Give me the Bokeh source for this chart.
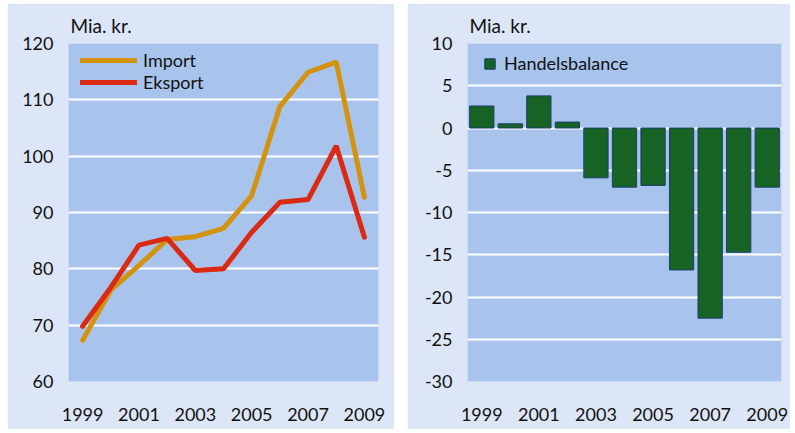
from bokeh.plotting import figure
from bokeh.layouts import row, column
from bokeh.models import Range1d, FixedTicker, ColumnDataSource, Legend, LegendItem, Spacer
from bokeh.embed import file_html
from bokeh.resources import INLINE

years = [1999, 2000, 2001, 2002, 2003, 2004, 2005, 2006, 2007, 2008, 2009]
import_vals = [67.3, 76.2, 80.6, 85.2, 85.7, 87.2, 93.0, 108.8, 114.9, 116.7, 92.7]
eksport_vals = [69.8, 76.7, 84.2, 85.4, 79.7, 80.0, 86.5, 91.8, 92.3, 101.8, 85.6]
balance_vals = [2.6, 0.5, 3.8, 0.7, -5.9, -7.0, -6.8, -16.8, -22.5, -14.7, -7.0]
x_ticks = [1999, 2001, 2003, 2005, 2007, 2009]
left_y_ticks = [60, 70, 80, 90, 100, 110, 120]
right_y_ticks = [-30, -25, -20, -15, -10, -5, 0, 5, 10]

FONT = "Lato"
OUTER = "#dde6f6"
INNER = "#a8c4ec"
TXT = "#111111"


def style(p, yticks):
    p.border_fill_color = OUTER
    p.background_fill_color = INNER
    p.outline_line_color = None
    p.xgrid.grid_line_color = None
    p.ygrid.grid_line_color = "white"
    p.ygrid.grid_line_width = 2
    p.xaxis.ticker = FixedTicker(ticks=x_ticks)
    p.yaxis.ticker = FixedTicker(ticks=yticks)
    p.yaxis.major_label_overrides = {t: str(t) for t in yticks}
    for ax in (p.xaxis[0], p.yaxis[0]):
        ax.axis_line_color = None
        ax.major_tick_line_color = None
        ax.minor_tick_line_color = None
        ax.major_tick_out = 0
        ax.major_tick_in = 0
        ax.minor_tick_out = 0
        ax.major_label_text_font = FONT
        ax.major_label_text_font_size = "18px"
        ax.major_label_text_color = TXT
    p.xaxis.major_label_standoff = 26
    p.yaxis.major_label_standoff = 15
    p.title.text = "Mia. kr."
    p.title.text_font = FONT
    p.title.text_font_size = "19px"
    p.title.text_font_style = "normal"
    p.title.text_color = TXT
    p.title.offset = 2
    p.title.standoff = 10
    p.title.vertical_align = "top"


p1 = figure(width=387, height=426, output_backend="svg", toolbar_location=None,
            x_range=Range1d(1998.5, 2009.5), y_range=Range1d(60, 120),
            min_border_left=61, min_border_right=16, min_border_top=40, min_border_bottom=48)
style(p1, left_y_ticks)
src1 = ColumnDataSource(dict(x=years, imp=import_vals, eks=eksport_vals))
r_imp = p1.line("x", "imp", source=src1, line_color="#d4930f", line_width=5)
r_eks = p1.line("x", "eks", source=src1, line_color="#da2a13", line_width=5)
leg1 = Legend(items=[LegendItem(label="Import", renderers=[r_imp]),
                     LegendItem(label="Eksport", renderers=[r_eks])],
              location=(12, 288), background_fill_alpha=0, border_line_color=None,
              label_text_font=FONT, label_text_font_size="18px", label_text_color=TXT,
              glyph_width=57, glyph_height=20, label_height=20, label_standoff=6,
              spacing=-3, padding=0, margin=0)
p1.add_layout(leg1)
for r in (r_imp, r_eks):
    r.glyph.line_cap = "round"

p2 = figure(width=383, height=426, output_backend="svg", toolbar_location=None,
            x_range=Range1d(1998.5, 2009.5), y_range=Range1d(-30, 10),
            min_border_left=60, min_border_right=9, min_border_top=40, min_border_bottom=48)
style(p2, right_y_ticks)
src2 = ColumnDataSource(dict(x=years, b=balance_vals))
r_bar = p2.vbar(x="x", top="b", bottom=0, width=0.85, source=src2,
                fill_color="#166324", line_color="#1b3d70", line_width=1)
leg2 = Legend(items=[LegendItem(label="Handelsbalance", renderers=[r_bar])],
              location=(16, 307), background_fill_alpha=0, border_line_color=None,
              label_text_font=FONT, label_text_font_size="18px", label_text_color=TXT,
              glyph_width=13, glyph_height=13, label_height=13, label_standoff=8,
              spacing=0, padding=0, margin=0)
p2.add_layout(leg2)

layout = column(Spacer(height=3),
                row(Spacer(width=7), p1, Spacer(width=13), p2, spacing=0),
                spacing=0)
open("out.html", "w").write(file_html(layout, INLINE))
